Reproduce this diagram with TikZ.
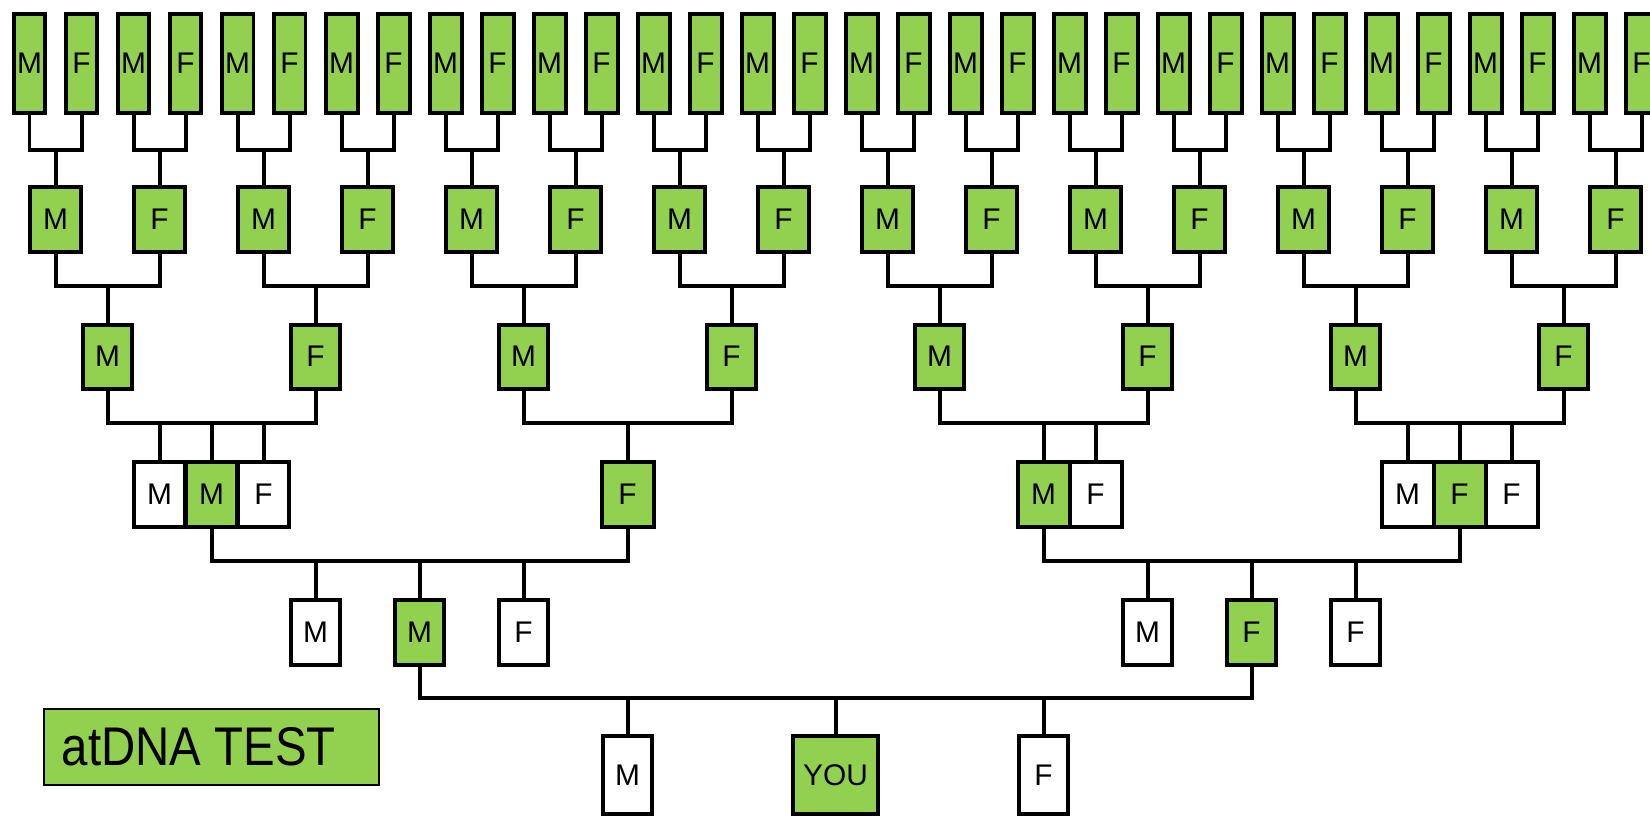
\documentclass[tikz,border=0pt]{standalone}
\usepackage{fontspec}
\setmainfont{Liberation Sans}
\usepackage{graphicx}
\usepackage{xcolor}
\definecolor{leafgreen}{HTML}{92D050}
\usepackage{tikz}

\begin{document}
\begin{tikzpicture}[x=0.02cm, y=-0.02cm]

\useasboundingbox (0, 0) rectangle (1650, 816);
\clip (0, 0) rectangle (1650, 816);

\tikzstyle{box}=[
	rectangle,
	draw=black,
	line width=0.08cm,
	inner sep=0pt,
	font=\fontsize{17}{19}\selectfont
]
\tikzstyle{tall}=[box, fill=leafgreen, minimum width=0.64cm, minimum height=2cm]
\tikzstyle{gen2}=[box, fill=leafgreen, minimum width=1.02cm, minimum height=1.3cm]
\tikzstyle{gen3}=[box, fill=leafgreen, minimum width=0.98cm, minimum height=1.28cm]
\tikzstyle{gen4}=[box, minimum width=1.04cm, minimum height=1.3cm]
\tikzstyle{gen5}=[box, minimum width=0.98cm, minimum height=1.3cm]
\tikzstyle{gen6}=[box, minimum width=0.98cm, minimum height=1.56cm]
\tikzstyle{hit}=[fill=leafgreen]
\tikzstyle{miss}=[fill=white]
\tikzstyle{link}=[line width=0.08cm]

% ancestor rows
\foreach \k in {1,...,32}
	\node[tall] (a\k) at ({29.5+52*(\k-1)}, 63.5) {\ifodd\k M\else F\fi};
\foreach \k in {1,...,16}
	\node[gen2] (b\k) at ({55.5+104*(\k-1)}, 219) {\ifodd\k M\else F\fi};
\foreach \k in {1,...,8}
	\node[gen3] (c\k) at ({107.5+208*(\k-1)}, 356.5) {\ifodd\k M\else F\fi};

\foreach \k [evaluate=\k as \i using int(2*\k-1),
		evaluate=\k as \j using int(2*\k)] in {1,...,16} {
	\path (b\k.north) ++(0, -35) coordinate (jb\k);
	\draw[link] (a\i.south) |- (jb\k) -| (a\j.south);
	\draw[link] (jb\k) -- (b\k.north);
}
\foreach \k [evaluate=\k as \i using int(2*\k-1),
		evaluate=\k as \j using int(2*\k)] in {1,...,8} {
	\path (c\k.north) ++(0, -37) coordinate (jc\k);
	\draw[link] (b\i.south) |- (jc\k) -| (b\j.south);
	\draw[link] (jc\k) -- (c\k.north);
}

% great-grandparents
\node[gen4, miss] (d1m) at (159.5, 494) {M};
\node[gen4, hit] (d1) at (211.5, 494) {M};
\node[gen4, miss] (d1f) at (263.5, 494) {F};
\node[gen4, hit] (d2) at (627.5, 494) {F};
\node[gen4, hit] (d3) at (1043.5, 494) {M};
\node[gen4, miss] (d3f) at (1095.5, 494) {F};
\node[gen4, miss] (d4m) at (1407.5, 494) {M};
\node[gen4, hit] (d4) at (1459.5, 494) {F};
\node[gen4, miss] (d4f) at (1511.5, 494) {F};

\path (d1.north) ++(0, -36.5) coordinate (jd1);
\path (d2.north) ++(0, -36.5) coordinate (jd2);
\path (d3.north) ++(0, -36.5) coordinate (jd3);
\path (d4.north) ++(0, -36.5) coordinate (jd4);

\draw[link] (c1.south) |- (jd1) -| (c2.south);
\draw[link] (c3.south) |- (jd2) -| (c4.south);
\draw[link] (c5.south) |- (jd3) -| (c6.south);
\draw[link] (c7.south) |- (jd4) -| (c8.south);

\draw[link] (jd1 -| d1m.north) -- (d1m.north);
\draw[link] (jd1) -- (d1.north);
\draw[link] (jd1 -| d1f.north) -- (d1f.north);
\draw[link] (jd2) -- (d2.north);
\draw[link] (jd3) -- (d3.north);
\draw[link] (jd3 -| d3f.north) -- (d3f.north);
\draw[link] (jd4 -| d4m.north) -- (d4m.north);
\draw[link] (jd4) -- (d4.north);
\draw[link] (jd4 -| d4f.north) -- (d4f.north);

% grandparents
\node[gen5, miss] (e1m) at (315.5, 632) {M};
\node[gen5, hit] (e1) at (419.5, 632) {M};
\node[gen5, miss] (e1f) at (523.5, 632) {F};
\node[gen5, miss] (e2m) at (1147.5, 632) {M};
\node[gen5, hit] (e2) at (1251.5, 632) {F};
\node[gen5, miss] (e2f) at (1355.5, 632) {F};

\path (e1.north) ++(0, -36.5) coordinate (je1);
\path (e2.north) ++(0, -36.5) coordinate (je2);

\draw[link] (d1.south) |- (je1) -| (d2.south);
\draw[link] (d3.south) |- (je2) -| (d4.south);

\draw[link] (je1 -| e1m.north) -- (e1m.north);
\draw[link] (je1) -- (e1.north);
\draw[link] (je1 -| e1f.north) -- (e1f.north);
\draw[link] (je2 -| e2m.north) -- (e2m.north);
\draw[link] (je2) -- (e2.north);
\draw[link] (je2 -| e2f.north) -- (e2f.north);

% parents and you
\node[gen6, miss] (fm) at (627.5, 775) {M};
\node[gen6, hit, minimum width=1.7cm] (you) at (835.5, 775) {YOU};
\node[gen6, miss] (ff) at (1043.5, 775) {F};

\path (you.north) ++(0, -36) coordinate (jf);
\draw[link] (e1.south) |- (jf) -| (e2.south);
\draw[link] (jf -| fm.north) -- (fm.north);
\draw[link] (jf) -- (you.north);
\draw[link] (jf -| ff.north) -- (ff.north);

% legend
\node[rectangle, draw=black, line width=0.04cm, fill=leafgreen,
	minimum width=6.72cm, minimum height=1.52cm] (key) at (211.5, 747) {};
\node[anchor=west, inner sep=0pt, font=\fontsize{31}{34}\selectfont]
	(keytxt) at ([xshift=0.38cm]key.west) {\scalebox{0.87}[1]{atDNA TEST}};

\end{tikzpicture}
\end{document}
